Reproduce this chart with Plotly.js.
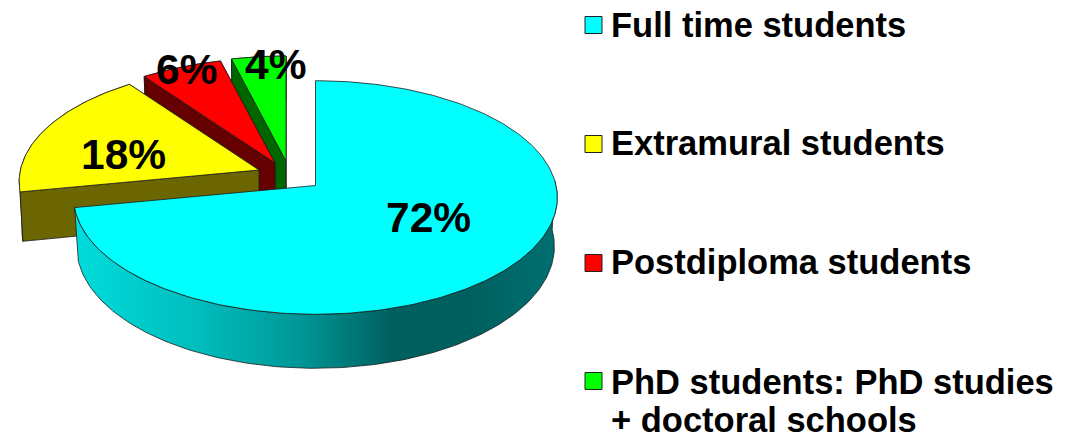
<!DOCTYPE html>
<html>
<head>
<meta charset="utf-8">
<script src="https://cdn.plot.ly/plotly-3.0.1.min.js"></script>
<style>html,body{margin:0;padding:0;background:#fff}#chart{width:1079px;height:434px}</style>
</head>
<body>
<div id="chart"></div>
<script>
// ---- data ----
const categories = ["Full time students", "Extramural students", "Postdiploma students", "PhD students: PhD studies"];
const legendExtraLine = "+ doctoral schools";
const shares = [72, 18, 6, 4];

// ---- styling and layout ----
const topColors  = ["#00ffff", "#ffff00", "#ff0000", "#00ff00"];
const wallColors = ["#00aaaa", "#6b6600", "#660000", "#006600"];
const apexX = [315.5, 259, 275, 286];
const apexY = [185.5, 170, 163, 161];
const radiusScale = [0.998, 0.99, 1, 1];
const labelX = [428, 123, 186, 275];
const labelY = [217, 154, 69, 64];
const legendY = [25, 144, 263, 381];
const legendTextY = [24.5, 143, 261.5, 381.5];
const RX = 241, RY = 115.8, PERSP = 0.1026, DEPTH = 54, SHRINK = 0.988;
const EDGE = "#1c1c1c", FONT = "Liberation Sans, Arial, sans-serif";

const total = shares.reduce((a, b) => a + b, 0);
const starts = shares.map((_, i) => shares.slice(0, i).reduce((a, b) => a + b, 0) / total * 360);
const ends = shares.map((s, i) => starts[i] + s / total * 360);

function project(i, deg) {
  const t = deg * Math.PI / 180, u = Math.sin(t), v = -Math.cos(t), s = 1 / (1 - PERSP * v);
  return [apexX[i] + u * s * RX * radiusScale[i], apexY[i] + v * s * RY * radiusScale[i], s];
}
function drop(i, p) {
  return [apexX[i] + (p[0] - apexX[i]) * SHRINK, p[1] + DEPTH * p[2] * (1 - PERSP)];
}
function arc(i, a, b) {
  const pts = [], n = Math.max(2, Math.ceil(Math.abs(b - a)));
  for (let k = 0; k <= n; k++) pts.push(project(i, a + (b - a) * k / n));
  return pts;
}
const traces = [];
function poly(pts, fill, extra) {
  traces.push(Object.assign({
    type: "scatter", mode: "lines", x: pts.map(p => p[0]), y: pts.map(p => p[1]),
    fill: "toself", fillcolor: fill, line: { color: EDGE, width: 0.8 },
    hoverinfo: "skip", showlegend: false
  }, extra || {}));
}
function closeUp(p) { return p.concat([p[0]]); }
function wallBand(i, pts) {
  const low = pts.map(p => drop(i, p));
  return closeUp(pts.map(p => [p[0], p[1]]).concat(low.reverse()));
}
function face(i) {
  const a = arc(i, starts[i], ends[i]).map(p => [p[0], p[1]]);
  return closeUp([[apexX[i], apexY[i]]].concat(a));
}

// far slices first, nearest (the big one) last
[3, 2, 1].forEach(i => {
  const ap = [apexX[i], apexY[i], 1];
  const first = project(i, starts[i]), last = project(i, ends[i]);
  poly(wallBand(i, [ap, last]), wallColors[i]);
  poly(wallBand(i, arc(i, starts[i], ends[i])), wallColors[i]);
  poly(wallBand(i, [ap, first]), wallColors[i]);
  poly(face(i), topColors[i]);
});
poly(wallBand(0, arc(0, 88, ends[0])), wallColors[0], {
  fillgradient: {
    type: "horizontal",
    colorscale: [[0, "#00dcdc"], [0.25, "#00bebe"], [0.47, "#009696"], [0.66, "#005f5f"], [0.82, "#005f5f"], [1, "#007070"]]
  }
});
poly(face(0), topColors[0]);

// legend swatches
traces.push({
  type: "scatter", mode: "markers", x: categories.map(() => 593.5), y: legendY,
  marker: { symbol: "square", size: 17, color: topColors, line: { color: "#222", width: 1 } },
  hoverinfo: "skip", showlegend: false
});

const annotations = [];
shares.forEach((s, i) => annotations.push({
  x: labelX[i], y: labelY[i], xref: "x", yref: "y", text: s + "%", showarrow: false,
  xanchor: "center", yanchor: "middle", font: { family: FONT, size: 42.5, color: "#000", weight: 700 }
}));
categories.forEach((c, i) => annotations.push({
  x: 608.5, y: legendTextY[i], xref: "x", yref: "y", text: c, showarrow: false,
  xanchor: "left", yanchor: "middle", font: { family: FONT, size: 34.5, color: "#000", weight: 700 }
}));
annotations.push({
  x: 608.5, y: legendTextY[3] + 38, xref: "x", yref: "y", text: legendExtraLine, showarrow: false,
  xanchor: "left", yanchor: "middle", font: { family: FONT, size: 34.5, color: "#000", weight: 700 }
});

Plotly.newPlot("chart", traces, {
  width: 1079, height: 434, margin: { l: 0, r: 0, t: 0, b: 0 },
  paper_bgcolor: "#fff", plot_bgcolor: "#fff", showlegend: false, hovermode: false,
  xaxis: { range: [0, 1079], visible: false, fixedrange: true },
  yaxis: { range: [434, 0], visible: false, fixedrange: true },
  annotations: annotations
}, { displayModeBar: false, staticPlot: true });
</script>
</body>
</html>
